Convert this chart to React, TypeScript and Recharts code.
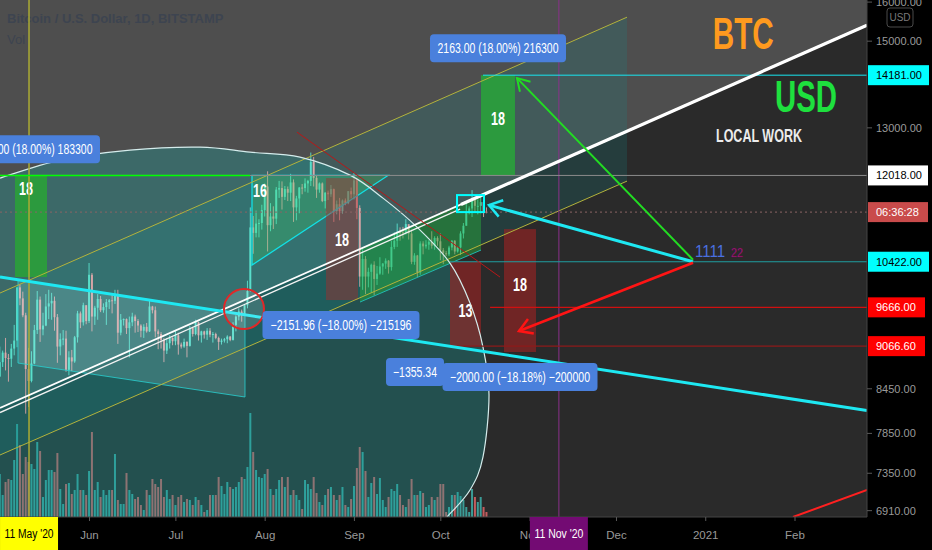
import React from 'react';
import { ComposedChart, Bar, XAxis, YAxis, ReferenceArea } from 'recharts';

const CHART_W = 932;
const CHART_H = 550;
const FONT = "'Liberation Sans', Arial, sans-serif";

// ---- axis domains (day index: 0 = 1 May 2020) ----
const DAY_MIN = -0.08;
const DAY_MAX = 301;
const PRICE_MIN = 6838;
const PRICE_MAX = 16055;
const VOL_MAX = 517;

// ---- daily candles: [high, low, close]; open = previous close ----
const FIRST_OPEN = 8620;
const mayHLC = [[9060,8630,8830],[9000,8760,8970],[9190,8710,8890],[8950,8550,8880],[9100,8760,9030],[9390,8930,9150],[9990,9050,9990],[10040,9700,9810],[9920,9510,9540],[9580,8110,8730],[9040,8200,8560],[8990,8540,8810],[9390,8800,9310],[9930,9250,9790],[9840,9130,9320],[9580,9230,9380],[9880,9370,9680],[9950,9480,9730],[9900,9470,9770],[9840,9300,9510],[9560,8820,9060],[9260,8930,9170],[9310,9080,9180],[9300,8690,8720],[8990,8640,8900],[9010,8700,8840],[9220,8820,9200],[9610,9120,9570],[9600,9340,9430],[9740,9380,9700],[9700,9400,9450]];
const junHLC = [[10400,9420,10200],[10230,9290,9520],[9690,9390,9660],[9880,9470,9800],[9850,9590,9620],[9730,9580,9670],[9800,9390,9750],[9800,9640,9780],[9880,9570,9770],[9950,9720,9880],[9950,9100,9270],[9560,9230,9470],[9490,9380,9480],[9490,9250,9340],[9520,8900,9430],[9580,9370,9520],[9550,9270,9450],[9480,9280,9380],[9400,9200,9300],[9400,9190,9360],[9420,9270,9290],[9770,9280,9680],[9690,9570,9620],[9680,9200,9290],[9320,9020,9250],[9280,9030,9160],[9190,8830,9000],[9190,8950,9110],[9230,9030,9190],[9200,9080,9140]];
const julHLC = [[9300,9080,9230],[9270,8940,9090],[9120,9030,9060],[9180,9040,9130],[9140,8900,9070],[9370,9060,9340],[9360,9210,9250],[9470,9230,9430],[9440,9150,9230],[9300,9120,9290],[9300,9180,9240],[9340,9160,9300],[9340,9200,9240],[9280,9120,9250],[9270,9170,9190],[9210,9010,9130],[9180,9090,9150],[9190,9120,9170],[9230,9110,9210],[9220,9140,9160],[9430,9150,9390],[9540,9290,9520],[9650,9460,9600],[9630,9440,9540],[9720,9530,9700],[10100,9650,9930],[11400,9920,11030],[11240,10560,10930],[11340,10850,11100],[11180,10850,11110],[11450,10990,11350]];
const augHLC = [[11860,11230,11800],[12100,10600,11070],[11480,10960,11230],[11420,11000,11190],[11790,11090,11740],[11910,11580,11770],[11900,11360,11600],[11810,11540,11750],[11800,11520,11680],[12050,11520,11880],[11940,11130,11400],[11620,11160,11570],[11790,11290,11780],[11850,11650,11770],[11960,11700,11860],[11930,11680,11910],[12480,11810,12290],[12390,11800,11970],[12020,11580,11740],[11880,11680,11860],[11880,11500,11520],[11690,11380,11680],[11720,11540,11650],[11830,11600,11750],[11760,11130,11330],[11530,11270,11460],[11580,11160,11330],[11550,11280,11530],[11570,11440,11480],[11710,11460,11710],[11780,11570,11650]];
const sepHLC = [[12070,11550,11920],[11950,11180,11390],[11440,10000,10170],[10640,9950,10470],[10520,9880,10170],[10320,9990,10250],[10390,9900,10370],[10430,9860,10130],[10350,10030,10220],[10500,10200,10340],[10400,10200,10390],[10480,10300,10440],[10450,10220,10330],[10790,10270,10680],[10940,10640,10790],[11100,10680,10950],[11030,10790,10940],[11040,10830,10930],[11180,10900,11090],[11080,10810,10920],[10990,10380,10420],[10570,10370,10530],[10540,10160,10240],[10780,10200,10740],[10780,10550,10690],[10800,10650,10720],[10800,10630,10770],[10960,10650,10700],[10870,10630,10840],[10870,10700,10780]];
const octHLC = [[10920,10450,10620],[10660,10380,10570],[10610,10520,10550],[10700,10520,10670],[10800,10620,10790],[10800,10550,10600],[10690,10580,10670],[10960,10540,10920],[11110,10830,11060],[11490,11060,11300],[11420,11270,11380],[11730,11220,11540],[11560,11300,11430],[11550,11270,11430],[11640,11290,11500],[11540,11220,11320],[11400,11290,11312]];

// ---- daily volume (hundreds of BTC, estimated) ----
const mayVol = [43,22,35,38,37,57,93,72,43,60,55,53,48,75,66,20,37,47,47,45,64,28,13,33,34,23,27,43,27,27,22];
const junVol = [46,85,27,35,20,27,22,27,27,63,17,13,13,44,27,23,18,20,12,7,27,22,38,33,30,38,20,27,18,22];
const julVol = [12,20,22,15,18,17,12,20,17,12,5,7,22,22,22,40,31,23,35,30,28,30,35,40,38,50,104,65,47,40,39];
const augVol = [43,48,28,22,28,37,40,30,40,22,27,22,17,8,37,33,28,40,24,15,12,22,28,30,22,17,22,30,12,10,18];
const sepVol = [31,49,70,65,46,20,34,40,23,39,17,10,20,28,26,33,22,12,10,18,38,22,22,26,24,10,12,20,17,20];
const octVol = [33,33,5,10,22,22,25,21,17,10,5,28,20,15,20,10,5];

// ---- axis ticks ----
const MONTH_TICKS = [31, 61, 92, 123, 153, 184, 214, 245, 276];
const MONTH_LABELS = ['Jun', 'Jul', 'Aug', 'Sep', 'Oct', 'Nov', 'Dec', '2021', 'Feb'];
const DATE_BADGE_DAYS = [10, 194];
const DATE_BADGE_TEXT = ["11 May '20", "11 Nov '20"];
const PRICE_TICKS = [16000, 15000, 13000, 8450, 7850, 7350, 6910];
const PRICE_BADGE_VALUES = [14181, 12018, 11312, 10422, 9666, 9066.6];
const PRICE_BADGE_TEXT = ['14181.00', '12018.00', '06:36:28', '10422.00', '9666.00', '9066.60'];

// ---- drawings, in [day, price] ----
const WHITE_LINE = [[-0.08, 8186], [301, 15401]];
const WHITE_LINE_BOLD_FROM = 160;
const WHITE_LINE_2 = [[-0.08, 8125], [159.7, 11368]];
const CHANNEL_UPPER = [[-0.08, 9897], [217.66, 15606]];
const CHANNEL_LOWER = [[-0.08, 7575], [217.66, 11906]];
const ARC = [[-0.08,11965],[20.75,12326],[45.06,12531],[69.37,12593],[86.74,12489],[104.1,12387],[121.46,12024],[132.92,11576],[144.73,11036],[156.19,10399],[163.14,9735],[167.65,9053],[169.74,8364],[167.65,7551],[163.14,7150],[155.15,6838]];
const LEFT_PARA = [[6.17,10112],[85.0,9544],[85.0,8336],[6.17,8817]];
const CYAN_THICK = [[-0.08, 10162], [301, 8152]];
const GREEN_BOXES = [[5.13, 16.24, 10162, 12018], [166.96, 178.76, 12018, 14181]];
const GREEN_BOX_LABELS = ['18', '18'];
const RED_BOXES = [[113.13, 124.24, 9783, 11965], [156.19, 166.96, 9066.6, 10422], [174.94, 186.05, 8979, 10999]];
const RED_BOX_LABELS = ['18', '13', '18'];
const TRIANGLE_16 = [[87.43, 12018], [134.66, 12018], [87.43, 10365]];
const GREEN_PARA = [[124.94,10642],[166.96,11615],[166.96,10625],[124.94,9751]];
const LEVEL_12018 = 12018;
const LEVEL_14181 = [167.65, 14181];
const LEVEL_10422 = [156.19, 10422];
const LEVEL_9666 = [170.1, 9666];
const LEVEL_9066 = [156.19, 9066.6];
const GREEN_LEVEL_END = 86.74;
const LAST_PRICE = 11312;
const RED_CIRCLE_CENTER = [84.65, 9639];
const CYAN_BOX = [158.62, 168.0, 11312, 11634];
const PIVOT = [240.58, 10422];
const ARROW_CYAN_TIP = [169.74, 11443];
const ARROW_GREEN_TIP = [179.45, 14112];
const ARROW_RED_TIP = [180.15, 9295];
const RED_DIAG = [[103.06, 12908], [173.55, 10162]];
const RED_BOTTOM = [[275.3, 6838], [301, 7150]];
const LABELS = [
  { at: [118.33, 9388], text: '\u22122151.96 (\u221218.00%) \u2212215196' },
  { at: [144.04, 8687], text: '\u22121355.34' },
  { at: [180.5, 8616], text: '\u22122000.00 (\u221218.18%) \u2212200000' },
  { at: [172.86, 14828], text: '2163.00 (18.00%) 216300' },
  { at: [11.03, 12551], text: '1833.00 (18.00%) 183300' },
];
const BTC_AT = [247.42, 14796];
const USD_AT = [269.05, 13348];
const LOCAL_AT = [248.56, 12704];

// ---- build rows ----
const MONTHS_HLC = [mayHLC, junHLC, julHLC, augHLC, sepHLC, octHLC];
const MONTHS_VOL = [mayVol, junVol, julVol, augVol, sepVol, octVol];
const rows: any[] = [];
{
  let prev = FIRST_OPEN;
  let d = 0;
  MONTHS_HLC.forEach((m, mi) =>
    m.forEach((hlc, i) => {
      const [h, l, c] = hlc;
      rows.push({ d, o: prev, h, l, c, range: [l, h], vol: MONTHS_VOL[mi][i], up: c >= prev });
      prev = c;
      d += 1;
    })
  );
}

function makeMap(r: any) {
  const { x, y, width, height } = r;
  const lmin = Math.log(PRICE_MIN);
  const lmax = Math.log(PRICE_MAX);
  const sx = (d: number) => x + ((d - DAY_MIN) / (DAY_MAX - DAY_MIN)) * width;
  const sy = (p: number) => y + ((lmax - Math.log(p)) / (lmax - lmin)) * height;
  const P = (pt: number[]) => [sx(pt[0]), sy(pt[1])];
  const poly = (arr: number[][]) => arr.map((p) => P(p).join(',')).join(' ');
  return { sx, sy, P, poly };
}

function smoothPath(pts: number[][]) {
  let s = `M${pts[0][0]},${pts[0][1]}`;
  for (let i = 0; i < pts.length - 1; i++) {
    const p0 = pts[i - 1] || pts[i];
    const p1 = pts[i];
    const p2 = pts[i + 1];
    const p3 = pts[i + 2] || p2;
    const c1 = [p1[0] + (p2[0] - p0[0]) / 6, p1[1] + (p2[1] - p0[1]) / 6];
    const c2 = [p2[0] - (p3[0] - p1[0]) / 6, p2[1] - (p3[1] - p1[1]) / 6];
    s += ` C${c1[0]},${c1[1]} ${c2[0]},${c2[1]} ${p2[0]},${p2[1]}`;
  }
  return s;
}

function arrowHead(tip: number[], from: number[], len = 13, ang = 0.55) {
  const a = Math.atan2(from[1] - tip[1], from[0] - tip[0]);
  const p1 = [tip[0] + len * Math.cos(a + ang), tip[1] + len * Math.sin(a + ang)];
  const p2 = [tip[0] + len * Math.cos(a - ang), tip[1] + len * Math.sin(a - ang)];
  return `M${p1[0]},${p1[1]} L${tip[0]},${tip[1]} L${p2[0]},${p2[1]}`;
}

function pointOnLine(line: number[][], d: number) {
  const [a, b] = line;
  const t = (d - a[0]) / (b[0] - a[0]);
  return [d, Math.exp(Math.log(a[1]) + t * (Math.log(b[1]) - Math.log(a[1])))];
}

const Background = (props: any) => {
  if (props.x == null) return null;
  const { x, y, width, height } = props;
  const { poly } = makeMap(props);
  return (
    <g>
      <rect x={x} y={y} width={width} height={height} fill="#2a2a2a" />
      <polygon
        points={poly([[DAY_MIN, PRICE_MAX], [DAY_MAX, PRICE_MAX], WHITE_LINE[1], WHITE_LINE[0]])}
        fill="#4e4e4e"
      />
    </g>
  );
};

const Tints = (props: any) => {
  if (props.x == null) return null;
  const { x, y, width, height } = props;
  const { P, poly, sx, sy } = makeMap(props);
  const arcPx = ARC.map(P);
  const fillPath = smoothPath(arcPx) + ` L${sx(DAY_MIN)},${sy(PRICE_MIN)} Z`;
  return (
    <g>
      <defs>
        <clipPath id="tintClip">
          <rect x={x} y={y} width={width} height={height} />
        </clipPath>
      </defs>
      <g clipPath="url(#tintClip)">
        <polygon
          points={poly([CHANNEL_UPPER[0], CHANNEL_UPPER[1], CHANNEL_LOWER[1], CHANNEL_LOWER[0]])}
          fill="rgba(20,140,140,0.2)"
        />
        <path d={fillPath} fill="rgba(20,170,165,0.3)" />
      </g>
    </g>
  );
};

const Overlay = (props: any) => {
  if (props.x == null) return null;
  const { x, y, width, height } = props;
  const { P, poly, sx, sy } = makeMap(props);
  const seg = (a: number[], b: number[], stroke: string, w: number, extra: any = {}) => {
    const pa = P(a);
    const pb = P(b);
    return <line x1={pa[0]} y1={pa[1]} x2={pb[0]} y2={pb[1]} stroke={stroke} strokeWidth={w} {...extra} />;
  };
  const boxPx = (b: number[]) => {
    const x1 = sx(b[0]);
    const x2 = sx(b[1]);
    const y1 = sy(b[3]);
    const y2 = sy(b[2]);
    return { x: x1, y: y1, w: x2 - x1, h: y2 - y1 };
  };
  const numLabel = (cx: number, cy: number, t: string) => (
    <text x={cx} y={cy} dy="0.36em" textAnchor="middle" fill="#ffffff" fontSize={18} fontWeight="bold" fontFamily={FONT} textLength={14} lengthAdjust="spacingAndGlyphs">{t}</text>
  );
  const arcPx = ARC.map(P);
  const pivot = P(PIVOT);
  const cTip = P(ARROW_CYAN_TIP);
  const gTip = P(ARROW_GREEN_TIP);
  const rTip = P(ARROW_RED_TIP);
  const rc = P(RED_CIRCLE_CENTER);
  const cb = boxPx(CYAN_BOX);
  const tri = TRIANGLE_16.map(P);
  const labelW = [157, 58, 155, 136, 136];
  const labelTL = [141, 44, 140, 121, 121];
  const btc = P(BTC_AT);
  const usd = P(USD_AT);
  const loc = P(LOCAL_AT);
  const boldStart = pointOnLine(WHITE_LINE, WHITE_LINE_BOLD_FROM);
  return (
    <g>
      <defs>
        <clipPath id="overlayClip">
          <rect x={x} y={y} width={width} height={height} />
        </clipPath>
      </defs>
      <g clipPath="url(#overlayClip)">
        <text x={x + 7} y={y + 23} fill="#3d4450" fontSize={13} fontWeight="bold" fontFamily={FONT}>Bitcoin / U.S. Dollar, 1D, BITSTAMP</text>
        <text x={x + 7} y={y + 44} fill="#3d4450" fontSize={13} fontFamily={FONT}>Vol</text>

        {/* left translucent parallelogram */}
        <polygon points={poly(LEFT_PARA)} fill="rgba(200,255,255,0.16)" stroke="rgba(40,210,210,0.8)" strokeWidth={1} />

        {/* green range boxes */}
        {GREEN_BOXES.map((b, i) => {
          const r = boxPx(b);
          return (
            <g key={'gb' + i}>
              <rect x={r.x} y={r.y} width={r.w} height={r.h} fill="#2c9a3e" />
              {numLabel(r.x + r.w / 2 - (i === 0 ? 5 : 0), i === 0 ? r.y + 13.5 : r.y + r.h / 2 - 7, GREEN_BOX_LABELS[i])}
            </g>
          );
        })}

        {/* triangle 16 */}
        <polygon points={tri.map((p) => p.join(',')).join(' ')} fill="rgba(60,220,100,0.25)" stroke="#12e0e6" strokeWidth={1.3} />
        {numLabel(tri[0][0] + 8, tri[0][1] + 15.5, '16')}

        {/* green channel block */}
        <polygon points={poly(GREEN_PARA)} fill="rgba(40,180,60,0.45)" />
        {seg(GREEN_PARA[3], GREEN_PARA[2], '#22b8b0', 1)}

        {/* red range boxes */}
        {RED_BOXES.map((b, i) => {
          const r = boxPx(b);
          return (
            <g key={'rb' + i}>
              <rect x={r.x} y={r.y} width={r.w} height={r.h} fill={i === 0 ? 'rgba(170,40,40,0.44)' : 'rgba(150,35,35,0.65)'} />
              {numLabel(r.x + r.w / 2, r.y + r.h / 2 + (i === 1 ? 7 : i === 2 ? -6 : 0), RED_BOX_LABELS[i])}
            </g>
          );
        })}

        {/* channel lines */}
        {seg(CHANNEL_UPPER[0], CHANNEL_UPPER[1], '#b3b33c', 1)}
        {seg(CHANNEL_LOWER[0], CHANNEL_LOWER[1], '#b3b33c', 1)}

        {/* arc outline */}
        <path d={smoothPath(arcPx)} fill="none" stroke="#d5ecec" strokeWidth={1.2} />

        {/* vertical date lines */}
        <line x1={sx(DATE_BADGE_DAYS[0])} x2={sx(DATE_BADGE_DAYS[0])} y1={y} y2={y + height} stroke="#abab34" strokeWidth={1.5} />
        <line x1={sx(DATE_BADGE_DAYS[1])} x2={sx(DATE_BADGE_DAYS[1])} y1={y} y2={y + height} stroke="#8a318a" strokeWidth={1} />

        {/* horizontal levels */}
        {seg([DAY_MIN, LEVEL_12018], [DAY_MAX, LEVEL_12018], '#8c8c8c', 1)}
        {seg([DAY_MIN, LEVEL_12018], [GREEN_LEVEL_END, LEVEL_12018], '#00ff00', 1.6)}
        {seg(LEVEL_14181, [DAY_MAX, LEVEL_14181[1]], '#18e6f0', 1)}
        {seg(LEVEL_10422, [DAY_MAX, LEVEL_10422[1]], '#1f9ea0', 1.2)}
        {seg(LEVEL_9666, [DAY_MAX, LEVEL_9666[1]], '#d01010', 1.2)}
        {seg(LEVEL_9066, [DAY_MAX, LEVEL_9066[1]], '#8e1a1a', 1.2)}
        {seg([DAY_MIN, LAST_PRICE], [DAY_MAX, LAST_PRICE], '#8a6464', 1, { strokeDasharray: '2 3' })}

        {/* white trend lines: thin double on the left, bold on the right */}
        {seg(WHITE_LINE_2[0], WHITE_LINE_2[1], '#f2f2f2', 1.3)}
        {seg(WHITE_LINE[0], WHITE_LINE[1], '#ffffff', 1.8)}
        {seg(boldStart, WHITE_LINE[1], '#ffffff', 3.2)}

        {/* cyan thick line */}
        {seg(CYAN_THICK[0], CYAN_THICK[1], '#1ee8f2', 3)}

        {/* thin red diagonal */}
        {seg(RED_DIAG[0], RED_DIAG[1], '#b81818', 1)}

        {/* arrows */}
        <line x1={pivot[0]} y1={pivot[1]} x2={cTip[0]} y2={cTip[1]} stroke="#1ee8f2" strokeWidth={3} />
        <path d={arrowHead(cTip, pivot, 15, 0.6)} fill="none" stroke="#1ee8f2" strokeWidth={2.5} />
        <line x1={pivot[0]} y1={pivot[1] - 2} x2={gTip[0]} y2={gTip[1]} stroke="#22dd22" strokeWidth={2} />
        <path d={arrowHead(gTip, pivot, 14, 0.55)} fill="none" stroke="#22dd22" strokeWidth={2} />
        <line x1={pivot[0]} y1={pivot[1] + 1} x2={rTip[0]} y2={rTip[1]} stroke="#ff1414" strokeWidth={2.6} />
        <path d={arrowHead(rTip, pivot, 15, 0.55)} fill="none" stroke="#ff1414" strokeWidth={2.5} />

        {seg(RED_BOTTOM[0], RED_BOTTOM[1], '#ff2020', 2)}

        {/* red circle */}
        <circle cx={rc[0]} cy={rc[1]} r={20} fill="rgba(255,255,255,0.14)" stroke="#e02828" strokeWidth={2} />

        {/* small cyan box */}
        <rect x={cb.x} y={cb.y} width={cb.w} height={cb.h} fill="none" stroke="#00ffff" strokeWidth={2} />

        {/* blue measurement labels */}
        {LABELS.map((lb, i) => {
          const c = P(lb.at);
          return (
            <g key={'lb' + i}>
              <rect x={c[0] - labelW[i] / 2} y={c[1] - 14} width={labelW[i]} height={28} rx={4} fill="#4a80dc" />
              <text x={c[0]} y={c[1]} dy="0.36em" textAnchor="middle" fill="#ffffff" fontSize={14} fontFamily={FONT} textLength={labelTL[i]} lengthAdjust="spacingAndGlyphs">{lb.text}</text>
            </g>
          );
        })}

        {/* 1111 22 */}
        <text x={pivot[0] + 2} y={pivot[1] - 5} fill="#4a70e0" fontSize={17} fontFamily={FONT} textLength={30} lengthAdjust="spacingAndGlyphs">1111</text>
        <text x={pivot[0] + 38} y={pivot[1] - 5} fill="#c4209c" stroke="#5a0a40" strokeWidth={0.4} fontSize={12} fontFamily={FONT} textLength={12} lengthAdjust="spacingAndGlyphs">22</text>

        {/* titles */}
        <text x={btc[0]} y={btc[1]} fill="#ff9a1e" fontSize={45} fontWeight="bold" fontFamily={FONT} textLength={61} lengthAdjust="spacingAndGlyphs">BTC</text>
        <text x={usd[0]} y={usd[1]} fill="#1ee03e" fontSize={45} fontWeight="bold" fontFamily={FONT} textLength={62} lengthAdjust="spacingAndGlyphs">USD</text>
        <text x={loc[0]} y={loc[1]} fill="#ececec" fontSize={18} fontWeight="bold" fontFamily={FONT} textLength={86} lengthAdjust="spacingAndGlyphs">LOCAL WORK</text>
      </g>
      {/* currency box on price scale */}
      <rect x={x + width + 20} y={y + 8} width={26} height={19} rx={3} fill="none" stroke="#4a4a4a" strokeWidth={1} />
      <text x={x + width + 33} y={y + 17.5} dy="0.36em" textAnchor="middle" fill="#7a7a7a" fontSize={10} fontFamily={FONT}>USD</text>
    </g>
  );
};

const UP = 'rgba(90,225,205,0.9)';
const DOWN = 'rgba(228,168,170,0.85)';

const Candle = (props: any) => {
  const { x, y, width, height, payload } = props;
  if (x == null || !payload) return null;
  const { o, c, h, l } = payload;
  const lh = Math.log(h);
  const ll = Math.log(l);
  const span = lh - ll || 1;
  const yAt = (v: number) => y + ((lh - Math.log(v)) / span) * height;
  const cx = x + width / 2;
  const top = yAt(Math.max(o, c));
  const bot = yAt(Math.min(o, c));
  const col = c >= o ? UP : DOWN;
  return (
    <g>
      <line x1={cx} x2={cx} y1={y} y2={y + height} stroke={col} strokeWidth={1} />
      <rect x={x} y={top} width={width} height={Math.max(1, bot - top)} fill={col} />
    </g>
  );
};

const VolBar = (props: any) => {
  const { x, y, width, height, payload } = props;
  if (x == null || !payload) return null;
  return <rect x={x} y={y} width={width} height={Math.max(0, height)} fill={payload.up ? '#3a9c97' : '#c25c5e'} />;
};

const PriceTick = (props: any) => {
  const { x, y, payload } = props;
  const v = payload?.value;
  const bi = PRICE_BADGE_VALUES.indexOf(v);
  if (bi >= 0) {
    const bgs = ['#00ffff', '#ffffff', 'rgba(236,88,88,0.85)', '#00ffff', '#ff0000', '#ff0000'];
    const fgs = ['#000', '#000', '#fff', '#000', '#fff', '#fff'];
    const ws = [61, 60, 60, 61, 57, 57];
    return (
      <g>
        <rect x={x + 1} y={y - 10} width={ws[bi]} height={20} fill={bgs[bi]} />
        <text x={x + 9} y={y} dy="0.36em" fill={fgs[bi]} fontSize={11} fontFamily={FONT}>{PRICE_BADGE_TEXT[bi]}</text>
      </g>
    );
  }
  return (
    <g>
      <line x1={x} x2={x + 5} y1={y} y2={y} stroke="#5a5a5a" />
      <text x={x + 9} y={y} dy="0.36em" fill="#9a9a9a" fontSize={11} fontFamily={FONT}>{Number(v).toFixed(2)}</text>
    </g>
  );
};

const TimeTick = (props: any) => {
  const { x, y, payload } = props;
  const v = payload?.value;
  const bi = DATE_BADGE_DAYS.indexOf(v);
  if (bi >= 0) {
    const bg = bi === 0 ? '#ffff00' : '#730b73';
    const fg = bi === 0 ? '#000' : '#fff';
    return (
      <g>
        <rect x={x - 29} y={y} width={58} height={33} fill={bg} />
        <text x={x} y={y + 17} dy="0.36em" textAnchor="middle" fill={fg} fontSize={12} fontFamily={FONT} textLength={49} lengthAdjust="spacingAndGlyphs">{DATE_BADGE_TEXT[bi]}</text>
      </g>
    );
  }
  const mi = MONTH_TICKS.indexOf(v);
  return (
    <g>
      <line x1={x} x2={x} y1={y} y2={y + 4} stroke="#5a5a5a" />
      <text x={x} y={y + 18} dy="0.36em" textAnchor="middle" fill="#999" fontSize={11.5} fontFamily={FONT}>{mi >= 0 ? MONTH_LABELS[mi] : ''}</text>
    </g>
  );
};

export default function App() {
  return (
    <div style={{ position: 'absolute', left: 0, top: 0, width: CHART_W, height: CHART_H, background: '#000', fontFamily: FONT }}>
      <ComposedChart width={CHART_W} height={CHART_H} data={rows} margin={{ top: 0, right: 0, bottom: 0, left: 0 }}>
        <XAxis
          xAxisId="main"
          dataKey="d"
          type="number"
          domain={[DAY_MIN, DAY_MAX]}
          allowDataOverflow
          ticks={[...MONTH_TICKS, ...DATE_BADGE_DAYS]}
          interval={0}
          height={33}
          tickSize={0}
          tickMargin={0}
          tickLine={false}
          axisLine={{ stroke: '#444' }}
          tick={<TimeTick />}
        />
        <XAxis xAxisId="vx" dataKey="d" type="number" domain={[DAY_MIN, DAY_MAX]} allowDataOverflow hide />
        <YAxis
          yAxisId="price"
          orientation="right"
          scale="log"
          type="number"
          domain={[PRICE_MIN, PRICE_MAX]}
          allowDataOverflow
          ticks={[...PRICE_TICKS, ...PRICE_BADGE_VALUES]}
          interval={0}
          width={65}
          tickSize={0}
          tickMargin={0}
          tickLine={false}
          axisLine={{ stroke: '#444' }}
          tick={<PriceTick />}
        />
        <YAxis yAxisId="vy" type="number" domain={[0, VOL_MAX]} allowDataOverflow hide />

        <ReferenceArea xAxisId="main" yAxisId="price" x1={DAY_MIN} x2={DAY_MAX} y1={PRICE_MIN} y2={PRICE_MAX} ifOverflow="visible" shape={Background} zIndex={10} />
        <Bar xAxisId="vx" yAxisId="vy" dataKey="vol" barSize={2} shape={VolBar} isAnimationActive={false} zIndex={20} />
        <ReferenceArea xAxisId="main" yAxisId="price" x1={DAY_MIN} x2={DAY_MAX} y1={PRICE_MIN} y2={PRICE_MAX} ifOverflow="visible" shape={Tints} zIndex={30} />
        <Bar xAxisId="main" yAxisId="price" dataKey="range" barSize={2} shape={Candle} isAnimationActive={false} zIndex={40} />
        <ReferenceArea xAxisId="main" yAxisId="price" x1={DAY_MIN} x2={DAY_MAX} y1={PRICE_MIN} y2={PRICE_MAX} ifOverflow="visible" shape={Overlay} zIndex={50} />
      </ComposedChart>
    </div>
  );
}
